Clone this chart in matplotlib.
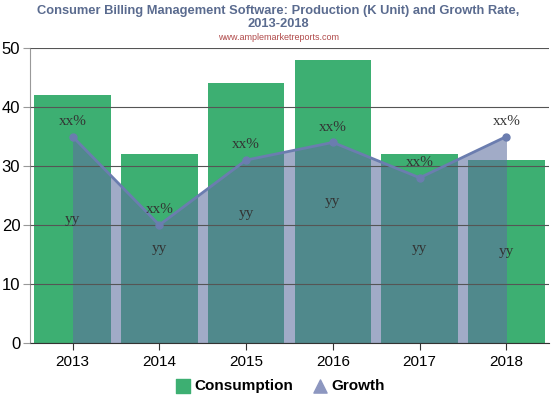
import matplotlib.pyplot as plt
import numpy as np

plt.rcParams['font.family'] = ['Liberation Sans', 'DejaVu Sans']

years = ['2013', '2014', '2015', '2016', '2017', '2018']
consumption = [42, 32, 44, 48, 32, 31]
growth = [35, 20, 31, 34, 28, 35]
growth_labels = ['xx%'] * 6
bar_labels = ['yy'] * 6

BAR = '#3daf72'
AREA = '#5e6f9f'
LINE = '#6b7daf'

fig = plt.figure(figsize=(5.57, 3.95), dpi=100)
ax = fig.add_axes([30 / 557, 1 - 343 / 395, 519 / 557, 295 / 395])

x = np.arange(len(years))
ax.bar(x, consumption, width=0.88, color=BAR, zorder=1)
ax.fill_between(x, growth, 0, color=AREA, alpha=0.58, lw=0, zorder=1.5)
ax.plot(x, growth, color=LINE, lw=2, marker='o', ms=5, zorder=4)

for i in range(len(years)):
    ax.text(x[i], growth[i] + 1.5, growth_labels[i], ha='center', va='bottom',
            family='Liberation Serif', fontsize=11, color='#333333', zorder=5)
    ax.text(x[i], consumption[i] / 2, bar_labels[i], ha='center', va='center',
            family='Liberation Serif', fontsize=11, color='#333333', zorder=5)

ax.set_xlim(-0.49, 5.49)
ax.set_ylim(0, 50)
ax.set_yticks(range(0, 51, 10))
ax.set_xticks(x)
ax.set_xticklabels(years)
ax.set_axisbelow(False)
ax.grid(axis='y', color='#555555', lw=0.8)
for s in ['top', 'right']:
    ax.spines[s].set_visible(False)
ax.spines['left'].set_color('#999999')
ax.spines['bottom'].set_color('#333333')
ax.tick_params(axis='y', length=5, color='#999999', labelsize=12, pad=2)
ax.tick_params(axis='x', length=5, color='#333333', labelsize=11)

fig.text(0.5, 0.988, 'Consumer Billing Management Software: Production (K Unit) and Growth Rate,\n2013-2018',
         ha='center', va='top', fontsize=9.3, fontweight='bold', color='#5a6b8f', linespacing=1.15)
fig.text(0.5, 0.905, 'www.amplemarketreports.com', ha='center', va='center',
         fontsize=6.5, color='#b04a4a')

h1 = ax.scatter([], [], marker='s', color=BAR, s=90)
h2 = ax.scatter([], [], marker='^', color='#8d97c0', s=90)
fig.legend([h1, h2], ['Consumption', 'Growth'], loc='center', bbox_to_anchor=(0.5, 0.022),
           ncol=2, frameon=False, prop={'weight': 'bold', 'size': 11},
           handletextpad=0.0, columnspacing=1.0, handlelength=1.5)

fig.savefig('out.png', dpi=100)
